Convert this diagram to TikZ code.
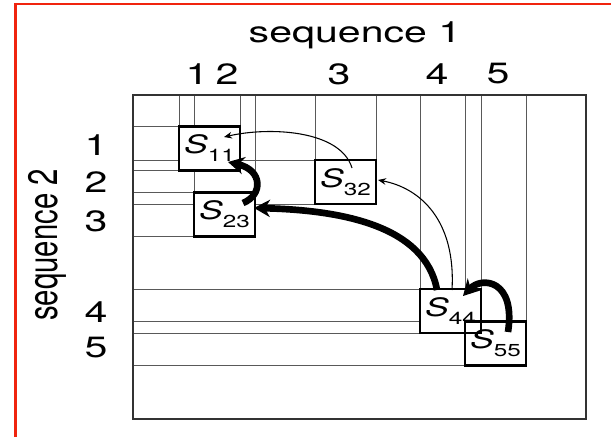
\documentclass[tikz,border=0pt]{standalone}
\usepackage{fontspec}
\setmainfont{TeX Gyre Heros}
\usepackage{graphicx}
\usetikzlibrary{arrows.meta,calc,backgrounds}

\definecolor{border}{RGB}{240,36,14}

\newcommand{\wide}[1]{\scalebox{1.4}[1]{#1}}
\newcommand{\slab}[1]{\wide{\fontsize{19}{19}\selectfont\itshape S\raisebox{-6pt}{\fontsize{13}{13}\selectfont\upshape #1}}}

\tikzset{
  cell/.style={draw, line width=2.2pt, fill=white, minimum width=45.75pt,
    minimum height=33pt, inner sep=0pt, outer sep=0pt},
  gridline/.style={line width=0.55pt, black!65},
  frame/.style={line width=1.3pt, black!80},
  thinarrow/.style={line width=0.8pt, -{Stealth[length=6pt,width=5pt]}},
  thickarrow/.style={line width=5pt, -{Stealth[length=12pt,width=13pt]}},
  lbl/.style={font=\fontsize{22}{22}\selectfont, inner sep=0pt},
}

\begin{document}
\begin{tikzpicture}[x=0.75pt,y=-0.75pt]
  \useasboundingbox (0,0) rectangle (611,437);
  \draw[border, line width=1.8pt] (15.5,437) -- (15.5,4) -- (611,4);

  \coordinate (ftl) at (133,95);
  \coordinate (fbr) at (586,419);
  \draw[frame] (ftl) rectangle (fbr);

  % cells
  \node[cell] (S11) at (209.5,148.5) {\slab{11}};
  \node[cell] (S23) at (224.5,214.5) {\slab{23}};
  \node[cell] (S32) at (345.5,182) {\slab{32}};
  \node[cell] (S44) at (450.5,311) {\slab{44}};
  \node[cell] (S55) at (495.5,343.5) {\slab{55}};
  \draw[line width=2.2pt] (S44.south west) rectangle (S44.north east);

  % projection lines
  \begin{scope}[on background layer]
    \foreach \c in {S11,S23,S32,S44,S55}{
      \draw[gridline] (\c.north west) -- (\c.north west |- ftl);
      \draw[gridline] (\c.north east) -- (\c.north east |- ftl);
      \draw[gridline] (\c.north west) -- (\c.north west -| ftl);
      \draw[gridline] (\c.south west) -- (\c.south west -| ftl);
    }
  \end{scope}

  % traceback
  \draw[thinarrow] ($(S32)+(6.5,-14)$) .. controls ($(S32)+(-5,-52)$) and ($(S11)+(60,-22)$) .. ($(S11)+(14.5,-11.5)$);
  \draw[thinarrow] ($(S44)+(1.5,-21)$) .. controls ($(S44)+(5.5,-91)$) and ($(S32)+(74.5,6)$) .. ($(S32)+(32.5,-2)$);
  \draw[thickarrow] ($(S44)+(-13.5,-21)$) .. controls ($(S44)+(-25.5,-86)$) and ($(S23)+(115.5,-4.5)$) .. ($(S23)+(29.5,-6.5)$);
  \draw[thickarrow] ($(S23)+(18.5,-11.5)$) .. controls ($(S23)+(38.5,-19.5)$) and ($(S11)+(53.5,21.5)$) .. ($(S11)+(18.5,13.5)$);
  \draw[thickarrow] ($(S55)+(12.5,-11.5)$) .. controls ($(S55)+(20.5,-63.5)$) and ($(S44)+(31.5,-35)$) .. ($(S44)+(12.5,-15)$);

  % axes
  \node[lbl] (seq1) at (355,35) {\wide{sequence 1}};
  \node[lbl, rotate=90] (seq2) at (47.5,245) {\scalebox{1}[1.4]{sequence 2}};
  \foreach \n/\x in {1/197,2/227,3/339,4/437,5/498}
    \node[lbl] (c\n) at (\x,74) {\wide{\n}};
  \foreach \n/\y in {1/145,2/182,3/221,4/312,5/348}
    \node[lbl] (r\n) at (96,\y) {\wide{\n}};
\end{tikzpicture}
\end{document}
